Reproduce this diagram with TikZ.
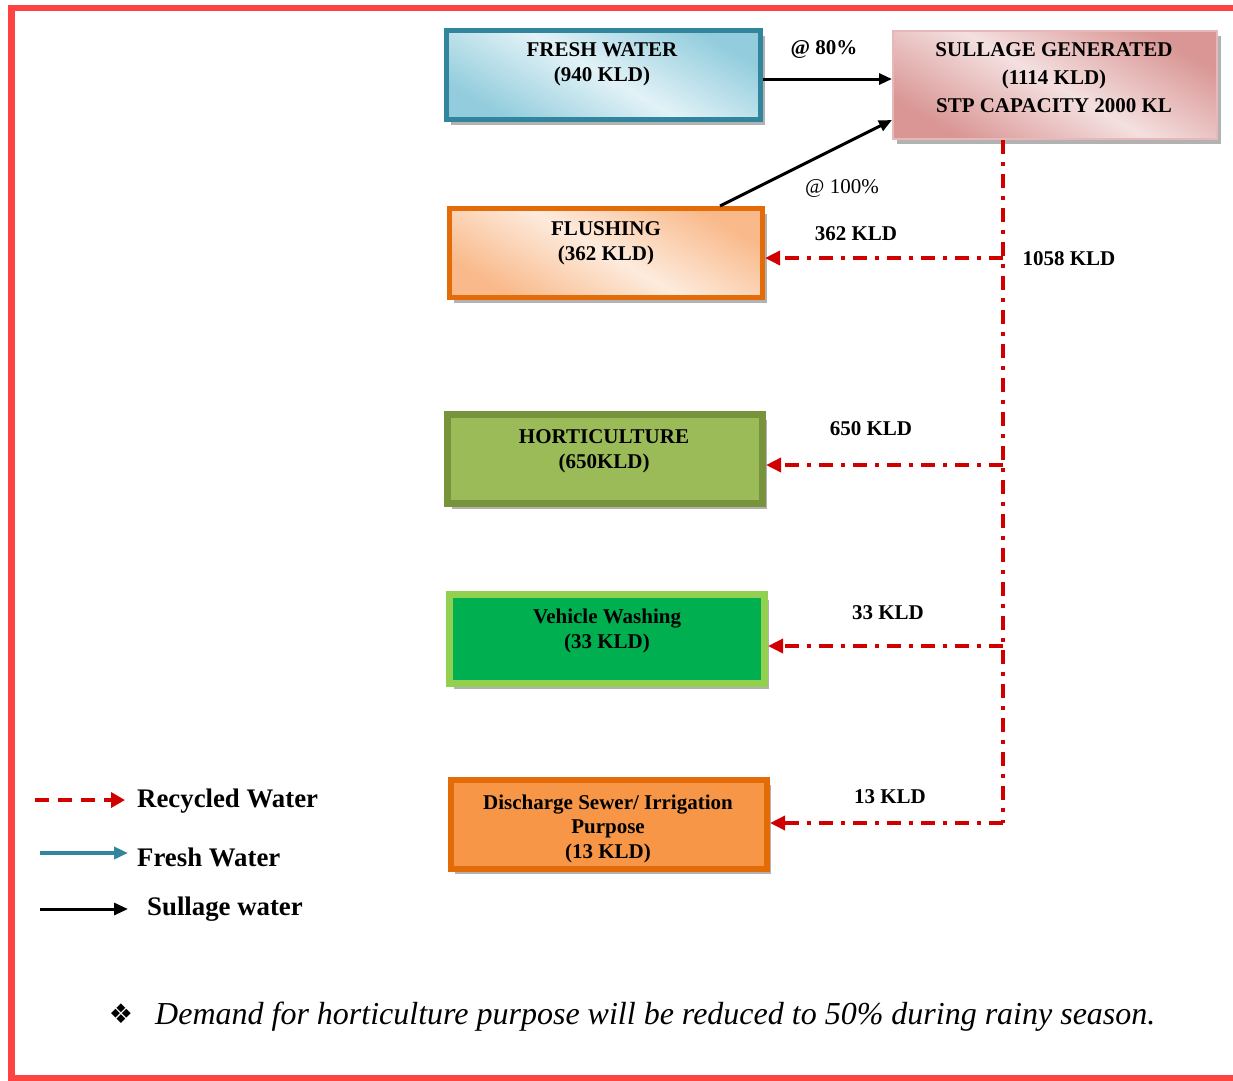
\documentclass[tikz,border=0pt]{standalone}
\usepackage{fontspec}
\setmainfont{Liberation Serif}
\newfontfamily\djv{DejaVu Sans}
\usetikzlibrary{arrows.meta,shadows}
\definecolor{framered}{HTML}{FF4242}
\definecolor{recred}{HTML}{D00000}
\definecolor{teal}{HTML}{31859C}
\definecolor{fwedge}{HTML}{93CDDD}
\definecolor{fwlight}{HTML}{E2F2F7}
\definecolor{sgedge}{HTML}{D99694}
\definecolor{sglight}{HTML}{F4E0E0}
\definecolor{sgborder}{HTML}{E6B9B8}
\definecolor{fledge}{HTML}{F9B98A}
\definecolor{fllight}{HTML}{FDEBDD}
\definecolor{orangeb}{HTML}{E36C09}
\definecolor{hortb}{HTML}{77933C}
\definecolor{hortf}{HTML}{9BBB59}
\definecolor{vehb}{HTML}{92D050}
\definecolor{vehf}{HTML}{00B050}
\definecolor{disf}{HTML}{F79646}
\tikzset{
  x=1pt,y=-1pt,
  boxbase/.style={rectangle,inner sep=0pt,
    drop shadow={shadow xshift=4pt,shadow yshift=-5pt,fill=black!30,opacity=1}},
  boxtext/.style={align=center,font=\fontsize{21}{25}\selectfont\bfseries,inner sep=0pt},
  lbl/.style={font=\fontsize{21}{25}\selectfont\bfseries,inner sep=0pt},
  sul/.style={line width=3pt,black,-{Triangle[length=13pt,width=11pt]}},
  recline/.style={line width=3.5pt,recred,dash pattern=on 14pt off 8pt on 4pt off 8pt},
  rec/.style={recline,-{Triangle[length=15pt,width=14pt]}},
  legtext/.style={font=\fontsize{26.8}{30}\selectfont\bfseries,anchor=west,inner sep=0pt},
}
\begin{document}
\begin{tikzpicture}
\useasboundingbox (0,0) rectangle (1233,1080);
\fill[white] (0,0) rectangle (1233,1080);
% frame
\draw[framered,line width=6.5pt] (1240,8) -- (11.5,8) -- (11.5,1078) -- (1240,1078);

% boxes
\node[boxbase,draw=teal,line width=5pt,minimum width=314pt,minimum height=89pt,
  shading=axis,top color=fwedge,bottom color=fwedge,middle color=fwlight,shading angle=-30]
  (fw) at (603.5,75) {};
\node[boxtext] (fwt) at (602,64.5) {FRESH WATER\\(940 KLD)};

\node[boxbase,draw=sgborder,line width=2pt,minimum width=324pt,minimum height=108pt,
  shading=axis,top color=sgedge,bottom color=sgedge,middle color=sglight,shading angle=-30]
  (sg) at (1055,85) {};
\node[boxtext,font=\fontsize{21}{28}\selectfont\bfseries] (sgt) at (1054,77.5) {SULLAGE GENERATED\\(1114 KLD)\\STP CAPACITY 2000 KL};

\node[boxbase,draw=orangeb,line width=5pt,minimum width=313pt,minimum height=89pt,
  shading=axis,top color=fledge,bottom color=fledge,middle color=fllight,shading angle=-30]
  (fl) at (606,253) {};
\node[boxtext] (flt) at (606,243.5) {FLUSHING\\(362 KLD)};

\node[boxbase,draw=hortb,fill=hortf,line width=7pt,minimum width=315pt,minimum height=89pt]
  (ho) at (605,459) {};
\node[boxtext] (hot) at (604,451) {HORTICULTURE\\(650KLD)};

\node[boxbase,draw=vehb,fill=vehf,line width=7pt,minimum width=315pt,minimum height=89pt]
  (vw) at (607,639) {};
\node[boxtext] (vwt) at (607,630.5) {Vehicle Washing\\(33 KLD)};

\node[boxbase,draw=orangeb,fill=disf,line width=6pt,minimum width=316pt,minimum height=89pt]
  (ds) at (609,824.5) {};
\node[boxtext,font=\fontsize{21}{24.5}\selectfont\bfseries] (dst) at (608,828.5) {Discharge Sewer/ Irrigation\\Purpose\\(13 KLD)};

% sullage arrows
\draw[sul] ([yshift=-4pt]fw.east) -- ([yshift=6pt]sg.west);
\draw[sul] ([xshift=114pt]fl.north) -- ([yshift=-35pt]sg.west);
\node[lbl] (p80) at (824,49) {@ 80\%};
\node[lbl,font=\fontsize{21}{25}\selectfont] (p100) at (842,188) {@ 100\%};

% recycled water
\coordinate (top) at (1003,140);
\coordinate (j1) at (1003,258);
\coordinate (j2) at (1003,465);
\coordinate (j3) at (1003,646);
\coordinate (j4) at (1003,823);
\draw[recline] (top) -- (j4);
\draw[rec] (j1) -- (j1 -| fl.east);
\draw[rec] (j2) -- (j2 -| ho.east);
\draw[rec] (j3) -- (j3 -| vw.east);
\draw[rec] (j4) -- (j4 -| ds.east);
\node[lbl] (l362) at (856,234) {362 KLD};
\node[lbl] (l1058) at (1069,259) {1058 KLD};
\node[lbl] (l650) at (871,429) {650 KLD};
\node[lbl] (l33) at (888,613) {33 KLD};
\node[lbl] (l13) at (890,797) {13 KLD};

% legend
\coordinate (r1) at (35,800); \coordinate (r2) at (125,800);
\coordinate (f1) at (40,853); \coordinate (f2) at (128,853);
\coordinate (s1) at (40,909); \coordinate (s2) at (128,909);
\draw[line width=3.5pt,recred,dash pattern=on 14pt off 9pt,-{Triangle[length=14pt,width=15pt]}] (r1) -- (r2);
\draw[line width=3.5pt,teal,-{Triangle[length=14pt,width=12pt]}] (f1) -- (f2);
\draw[line width=3pt,black,-{Triangle[length=14pt,width=12pt]}] (s1) -- (s2);
\node[legtext] (lt1) at (137,801) {Recycled Water};
\node[legtext] (lt2) at (137,857) {Fresh Water};
\node[legtext] (lt3) at (147,909) {Sullage water};

% footnote
\node[font=\djv\fontsize{27}{29}\selectfont,inner sep=0pt] (bul) at (121,1014) {❖};
\node[font=\fontsize{32}{34}\selectfont\itshape,anchor=west,inner sep=0pt] (note) at (155,1017)
  {Demand for horticulture purpose will be reduced to 50\% during rainy season.};
\end{tikzpicture}
\end{document}
